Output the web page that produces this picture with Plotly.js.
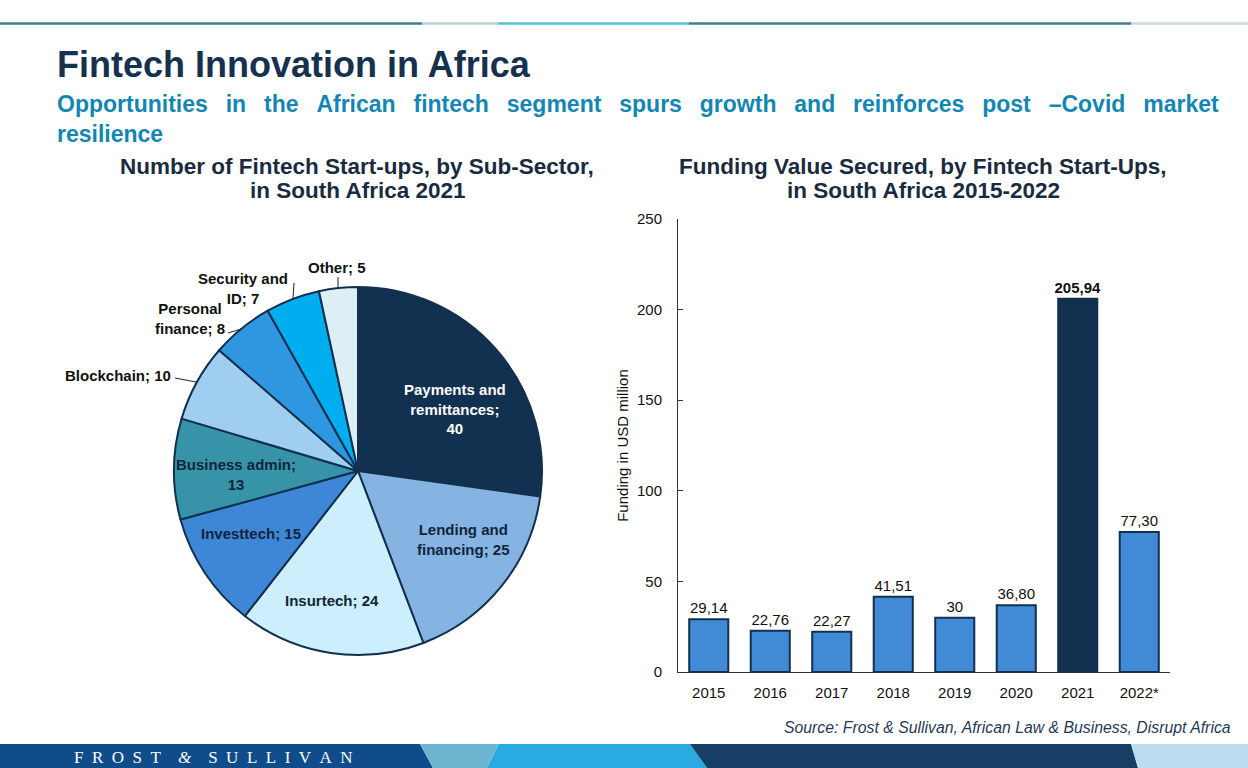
<!DOCTYPE html>
<html>
<head>
<meta charset="utf-8">
<script src="https://cdn.plot.ly/plotly-3.0.1.min.js"></script>
<style>html,body{margin:0;padding:0;background:#fff;}#chart{width:1248px;height:768px;}</style>
</head>
<body>
<div id="chart"></div>
<script>
// ---------- DATA ----------
const sectors = ["Payments and remittances", "Lending and financing", "Insurtech", "Investtech",
                 "Business admin", "Blockchain", "Personal finance", "Security and ID", "Other"];
const startups = [40, 25, 24, 15, 13, 10, 8, 7, 5];

const years = ["2015", "2016", "2017", "2018", "2019", "2020", "2021", "2022*"];
const funding = [29.14, 22.76, 22.27, 41.51, 30, 36.80, 205.94, 77.30];
const fundingText = ["29,14", "22,76", "22,27", "41,51", "30", "36,80", "205,94", "77,30"];
const yTicks = [0, 50, 100, 150, 200, 250];

// ---------- helpers ----------
const W = 1248, H = 768;
const px = x => x / W;
const py = y => 1 - y / H;

const sliceColors = ["#12304f", "#85b4e3", "#cdeefc", "#3e87d6", "#3794a8", "#9fcef0", "#2e97e0", "#00adef", "#ddeff5"];
const barColors = years.map(y => y === "2021" ? "#12304f" : "#418bd6");
const barText = fundingText.map((t, i) => years[i] === "2021" ? "<b>" + t + "</b>" : t);

const pie = {
  type: "pie", values: startups, labels: sectors, sort: false, direction: "clockwise", rotation: 0,
  marker: {colors: sliceColors, line: {color: "#12304f", width: 2}},
  textinfo: "none", hoverinfo: "label+value", showlegend: false,
  domain: {x: [px(174), px(542)], y: [py(655), py(287)]}
};

const bars = {
  type: "bar", x: years, y: funding, xaxis: "x", yaxis: "y",
  marker: {color: barColors, line: {color: "#12304f", width: 2}},
  text: barText, textposition: "outside", cliponaxis: false, constraintext: "none",
  textfont: {family: "Liberation Sans, Arial, sans-serif", size: 15, color: "#111"},
  hoverinfo: "x+y", showlegend: false
};

// pie label layout (wrapping + placement)
const pieLabelCfg = [
  {i: 0, lines: ["Payments and", "remittances;", "{v}"], x: 455, y: 409, color: "#ffffff"},
  {i: 1, lines: ["Lending and", "financing; {v}"], x: 463, y: 539, color: "#12243a"},
  {i: 2, lines: ["Insurtech; {v}"], x: 332, y: 600, color: "#12243a"},
  {i: 3, lines: ["Investtech; {v}"], x: 251, y: 533, color: "#12243a"},
  {i: 4, lines: ["Business admin;", "{v}"], x: 236, y: 474, color: "#12243a"},
  {i: 5, lines: ["Blockchain; {v}"], x: 118, y: 375, color: "#111"},
  {i: 6, lines: ["Personal", "finance; {v}"], x: 190, y: 318, color: "#111"},
  {i: 7, lines: ["Security and", "ID; {v}"], x: 243, y: 288, color: "#111"},
  {i: 8, lines: ["Other; {v}"], x: 337, y: 268, color: "#111"}
];

const font = "Liberation Sans, Arial, sans-serif";
const annotations = [];
pieLabelCfg.forEach(c => {
  annotations.push({
    xref: "paper", yref: "paper", x: px(c.x), y: py(c.y), xanchor: "center", yanchor: "middle",
    text: "<b>" + c.lines.join("<br>").replace("{v}", startups[c.i]) + "</b>",
    showarrow: false, align: "center",
    font: {family: font, size: 15, color: c.color}
  });
});

function textAnn(text, x, y, size, color, opts) {
  annotations.push(Object.assign({
    xref: "paper", yref: "paper", x: px(x), y: py(y), xanchor: "left", yanchor: "middle",
    text: text, showarrow: false, font: {family: font, size: size, color: color}
  }, opts || {}));
}
// header
textAnn("<b>Fintech Innovation in Africa</b>", 55, 64, 36, "#16304f");
const sub1 = "Opportunities in the African fintech segment spurs growth and reinforces post –Covid market".split(" ").join(" \u2002");
textAnn("<b>" + sub1 + "</b>", 55, 104, 23, "#1386b3");
textAnn("<b>resilience</b>", 55, 134, 23, "#1386b3");
// chart titles
textAnn("<b>Number of Fintech Start-ups, by Sub-Sector,</b>", 357, 166, 22.5, "#1a2b40", {xanchor: "center"});
textAnn("<b>in South Africa 2021</b>", 357, 190, 22.5, "#1a2b40", {xanchor: "center"});
textAnn("<b>Funding Value Secured, by Fintech Start-Ups,</b>", 923, 166, 22.5, "#1a2b40", {xanchor: "center"});
textAnn("<b>in South Africa 2015-2022</b>", 923, 190, 22.5, "#1a2b40", {xanchor: "center"});
// source
textAnn("<i>Source: Frost &amp; Sullivan, African Law &amp; Business, Disrupt Africa</i>", 1233, 727, 15.8, "#1f3a5a", {xanchor: "right"});
// footer logo
const sp = "\u2002";
const logo = "FROST".split("").join(sp) + "\u2003<i>&amp;</i>\u2003" + "SULLIVAN".split("").join(sp);
textAnn(logo, 72, 757, 17, "#ffffff", {font: {family: "Liberation Serif, DejaVu Serif, serif", size: 17, color: "#ffffff"}});

// shapes
function poly(pts, color) {
  return {type: "path", xref: "paper", yref: "paper", layer: "below",
    path: "M" + pts.map(p => px(p[0]) + "," + py(p[1])).join(" L") + " Z",
    fillcolor: color, line: {width: 0}};
}
function hline(x0, x1, y, color, w) {
  return {type: "line", xref: "paper", yref: "paper", x0: px(x0), x1: px(x1), y0: py(y), y1: py(y),
    line: {color: color, width: w}};
}
function seg(x0, y0, x1, y1) {
  return {type: "line", xref: "paper", yref: "paper", x0: px(x0), x1: px(x1), y0: py(y0), y1: py(y1),
    line: {color: "#222", width: 1}};
}
const shapes = [
  hline(0, 422, 23.5, "#3f7d96", 2.5),
  hline(422, 498, 23.5, "#b9d0d9", 2.5),
  hline(498, 689, 23.5, "#55c3d8", 2.5),
  hline(689, 1131, 23.5, "#3f7d96", 2.5),
  hline(1131, 1248, 23.5, "#c9d9df", 2.5),
  poly([[0, 744], [420, 744], [433, 768], [0, 768]], "#0f4c89"),
  poly([[420, 744], [499, 744], [487, 768], [433, 768]], "#6cb6cf"),
  poly([[499, 744], [690, 744], [707, 768], [487, 768]], "#29abe2"),
  poly([[690, 744], [1131, 744], [1138, 768], [707, 768]], "#173f66"),
  poly([[1131, 744], [1248, 744], [1248, 768], [1138, 768]], "#bcdcf0"),
  // pie leader lines
  seg(175, 378, 196, 382),
  seg(228, 333, 241, 329),
  seg(294, 283, 293, 298),
  seg(338, 277, 338, 288)
];

const layout = {
  width: W, height: H, margin: {l: 0, r: 0, t: 0, b: 0},
  paper_bgcolor: "#ffffff", plot_bgcolor: "rgba(0,0,0,0)",
  font: {family: font, color: "#222"},
  bargap: 0.365,
  xaxis: {
    domain: [px(678), px(1170)], anchor: "y", type: "category",
    showline: true, linecolor: "#333", linewidth: 1, ticks: "", showgrid: false, zeroline: false,
    tickfont: {family: font, size: 15, color: "#111"}, ticklabelstandoff: 7, fixedrange: true
  },
  yaxis: {
    domain: [py(672), py(219)], anchor: "x", range: [0, 250], tickvals: yTicks,
    showline: true, linecolor: "#333", linewidth: 1, ticks: "inside", ticklen: 5, tickcolor: "#333",
    showgrid: false, zeroline: false,
    tickfont: {family: font, size: 15, color: "#111"}, ticklabelstandoff: 12,
    title: {text: "Funding in USD million", font: {family: font, size: 15, color: "#111"}, standoff: 4},
    fixedrange: true
  },
  annotations: annotations,
  shapes: shapes
};

Plotly.newPlot("chart", [pie, bars], layout, {displayModeBar: false, staticPlot: true});
</script>
</body>
</html>
